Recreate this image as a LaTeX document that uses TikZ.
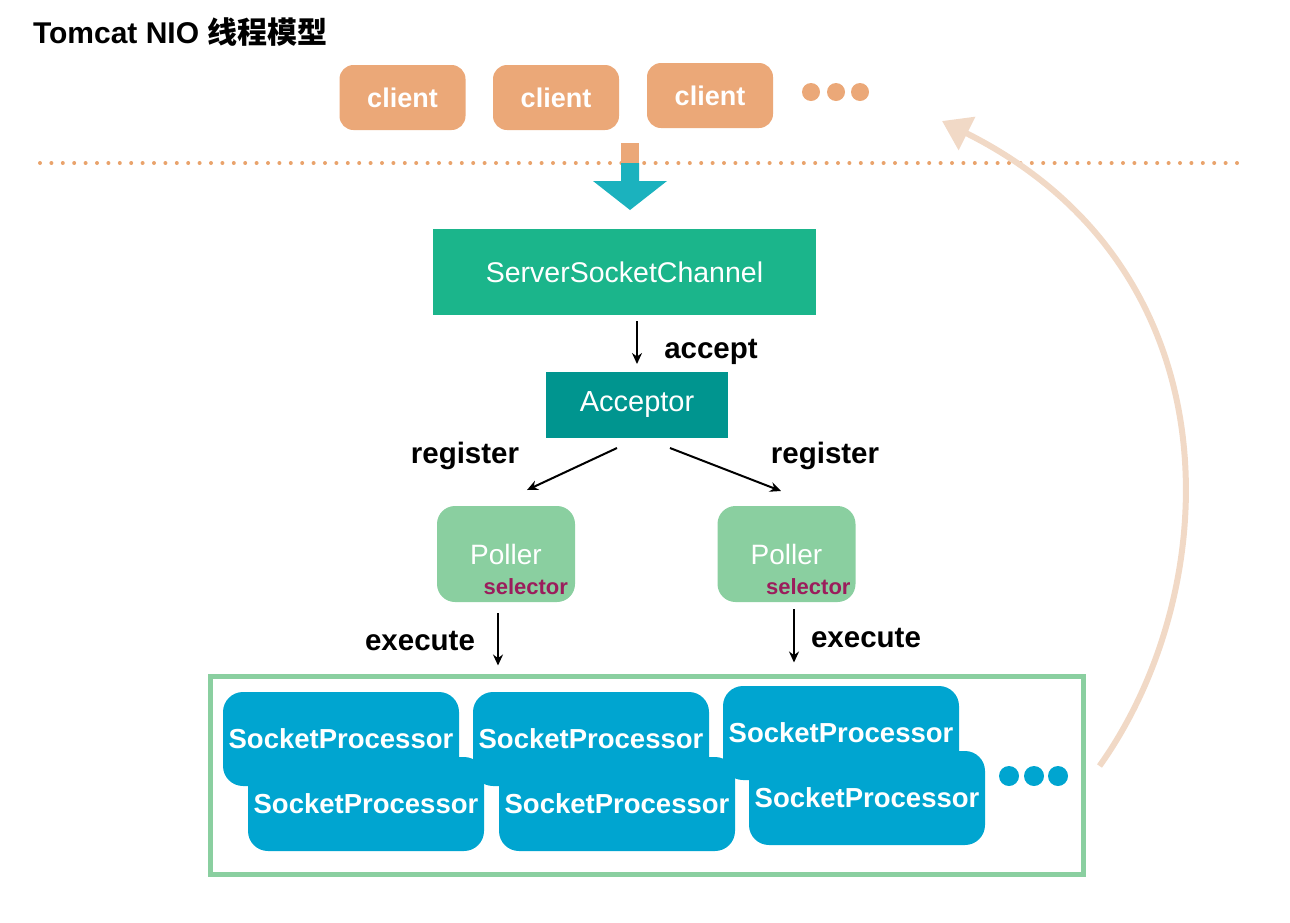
\documentclass[tikz,border=0pt]{standalone}
\usepackage{fontspec}
\setmainfont{Liberation Sans}
\newfontfamily\cjk{Noto Sans CJK SC}
\usetikzlibrary{arrows.meta, calc}

\definecolor{clientorange}{HTML}{EBA878}
\definecolor{dotorange}{HTML}{E9A36C}
\definecolor{arrowteal}{HTML}{1BB2BE}
\definecolor{sscgreen}{HTML}{1BB58B}
\definecolor{acceptteal}{HTML}{00958F}
\definecolor{pollergreen}{HTML}{8ACFA0}
\definecolor{selectred}{HTML}{9B1D5C}
\definecolor{procblue}{HTML}{00A5D0}
\definecolor{backpeach}{HTML}{F1D9C6}

\begin{document}
\begin{tikzpicture}[x=1pt, y=-1pt, line width=2pt,
  box/.style={inner sep=0pt, text=white},
  client/.style={box, fill=clientorange, rounded corners=14pt,
    minimum width=126pt, minimum height=65pt,
    font=\fontsize{27}{32}\selectfont\bfseries},
  blob/.style={circle, fill=#1, inner sep=0pt, minimum size=18pt},
  chan/.style={box, fill=#1, font=\fontsize{28.5}{32}\selectfont},
  poller/.style={box, fill=pollergreen, rounded corners=18pt,
    minimum width=138pt, minimum height=96pt,
    font=\fontsize{28}{32}\selectfont},
  seltext/.style={inner sep=0pt, text=selectred,
    font=\fontsize{22}{26}\selectfont\bfseries},
  proc/.style={box, fill=procblue, rounded corners=20pt,
    minimum width=236pt, minimum height=94pt,
    font=\fontsize{27.5}{32}\selectfont\bfseries},
  lbl/.style={inner sep=0pt, font=\fontsize{29.5}{34}\selectfont\bfseries},
  arr/.style={-{Stealth[length=11pt,width=10pt]}, line width=2pt},
  back/.style={draw=backpeach, line width=6pt,
    -{Triangle[length=28pt,width=36pt]}}]

  \useasboundingbox (0,0) rectangle (1290,922);

  % Title
  \node[anchor=west, inner sep=0pt, font=\fontsize{30}{34}\selectfont\bfseries]
    (title) at (32,32) {Tomcat NIO {\cjk 线程模型}};

  % Clients
  \node[client] (client1) at (402.5,97.5) {client};
  \node[client] (client2) at (556,97.5) {client};
  \node[client] (client3) at (710,95.5) {client};
  \node[blob=clientorange] (cdot1) at (811,92) {};
  \node[blob=clientorange] (cdot2) at (836,92) {};
  \node[blob=clientorange] (cdot3) at (860,92) {};

  % Boundary and entry arrow
  \draw[dotorange, line width=4pt, line cap=round, dash pattern=on 0pt off 11.4pt]
    (40,163) -- (1240,163);
  \fill[clientorange] (621,143) rectangle (639,163);
  \fill[arrowteal] (621,163) -- (639,163) -- (639,181) -- (667,181)
    -- (630,210) -- (593,181) -- (621,181) -- cycle;

  % Server side
  \node[chan=sscgreen, minimum width=383pt, minimum height=86pt]
    (ssc) at (624.5,272) {ServerSocketChannel};
  \node[chan=acceptteal, minimum width=182pt, minimum height=66pt,
    font=\fontsize{29}{32}\selectfont]
    (acceptor) at (637,405) {Acceptor};
  \draw[arr, shorten <=5pt, shorten >=7pt] (acceptor.north |- ssc.south) -- (acceptor.north);
  \node[lbl] (acclbl) at (711,352) {accept};

  % Pollers
  \node[poller] (pollerL) at (506,554) {Poller};
  \node[poller] (pollerR) at (786.5,554) {Poller};
  \node[seltext, anchor=east] (selL) at ([xshift=-7pt,yshift=16pt]pollerL.south east) {selector};
  \node[seltext, anchor=east] (selR) at ([xshift=-5pt,yshift=16pt]pollerR.south east) {selector};

  \draw[arr] ([xshift=-20pt,yshift=-9pt]acceptor.south) -- ([xshift=21pt,yshift=15pt]pollerL.north);
  \draw[arr] ([xshift=33pt,yshift=-9pt]acceptor.south) -- ([xshift=-5.5pt,yshift=14pt]pollerR.north);
  \node[lbl] (regL) at (465,456) {register};
  \node[lbl] (regR) at (825,456) {register};

  % Worker pool
  \node[draw=pollergreen, line width=5pt, minimum width=873pt, minimum height=198pt]
    (pool) at (646.5,775) {};
  \draw[arr, shorten >=8pt] ([xshift=-8pt,yshift=-10pt]pollerL.south)
    -- ([xshift=-8pt]pollerL.south |- pool.north);
  \draw[arr, shorten >=11pt] ([xshift=7.5pt,yshift=-6pt]pollerR.south)
    -- ([xshift=7.5pt]pollerR.south |- pool.north);
  \node[lbl] (exeL) at (420,641) {execute};
  \node[lbl] (exeR) at (866,638) {execute};

  \node[proc] (proc1) at (341,739) {SocketProcessor};
  \node[proc] (proc2) at (591,739) {SocketProcessor};
  \node[proc] (proc3) at (841,733) {SocketProcessor};
  \node[proc] (proc4) at (366,804) {SocketProcessor};
  \node[proc] (proc5) at (617,804) {SocketProcessor};
  \node[proc] (proc6) at (867,798) {SocketProcessor};
  \node[blob=procblue, minimum size=20pt] (pdot1) at (1009,776) {};
  \node[blob=procblue, minimum size=20pt] (pdot2) at (1034,776) {};
  \node[blob=procblue, minimum size=20pt] (pdot3) at (1058,776) {};

  % Return to clients
  \coordinate (retA) at ([xshift=14pt,yshift=9pt]pool.east);
  \coordinate (retB) at (942,121);
  \draw[back] (retA) .. controls (1225,590) and (1240,270) .. (retB);

\end{tikzpicture}
\end{document}
